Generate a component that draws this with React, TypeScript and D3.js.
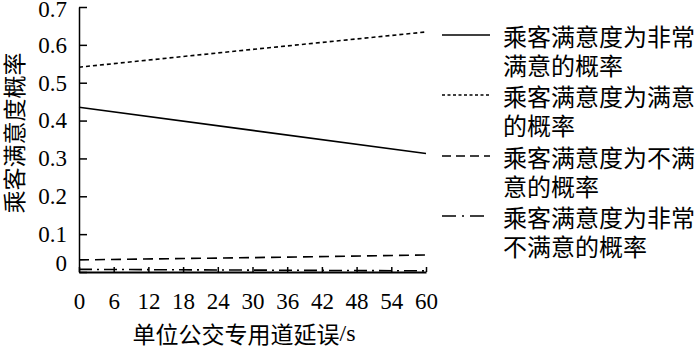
import React, { useEffect, useRef } from "react";
import * as d3 from "d3";

const delays = [0, 30, 60];
const veryHigh = [0.435, 0.374, 0.313];
const satisfied = [0.541, 0.588, 0.634];
const dissatisfied = [0.032, 0.038, 0.045];
const veryDissatisfied = [0.007, 0.005, 0.003];
const xTicks = [0, 6, 12, 18, 24, 30, 36, 42, 48, 54, 60];
const yTicks = [0, 0.1, 0.2, 0.3, 0.4, 0.5, 0.6, 0.7];
const seriesNames = [
  ["乘客满意度为非常", "满意的概率"],
  ["乘客满意度为满意", "的概率"],
  ["乘客满意度为不满", "意的概率"],
  ["乘客满意度为非常", "不满意的概率"],
];
const seriesValues = [veryHigh, satisfied, dissatisfied, veryDissatisfied];
const dashes = ["none", "4 3", "10 6", "13 5 2 5"];
const legendDashes = ["none", "3 2.5", "9 5", "14 6 2 6"];
const yTitle = "乘客满意度概率";
const xTitleMain = "单位公交专用道延误";
const xTitleUnit = "/s";

const W = 700;
const H = 346;
const serif = '"Liberation Serif", "DejaVu Serif", serif';
const cjk = '"Noto Sans CJK SC", "Noto Sans", sans-serif';

export default function App() {
  const gx = useRef<SVGGElement>(null);
  const gy = useRef<SVGGElement>(null);
  const x = d3.scaleLinear().domain([0, 60]).range([79, 426]);
  const y = d3.scaleLinear().domain([0, 0.7]).range([272, 7]);

  useEffect(() => {
    const ax = d3
      .axisBottom(x)
      .tickValues(xTicks)
      .tickFormat(d3.format("d"))
      .tickSizeInner(-5)
      .tickSizeOuter(0)
      .tickPadding(21);
    const sx = d3.select(gx.current!);
    sx.call(ax);
    sx.attr("font-family", null).attr("font-size", null);
    sx.select(".domain").attr("stroke-width", 2);
    sx.selectAll(".tick line").attr("stroke-width", 1.5);
    sx.selectAll("text").style("font-family", serif).style("font-size", "23px").attr("fill", "#000");

    const ay = d3
      .axisLeft(y)
      .tickValues(yTicks)
      .tickFormat((d: any) => (d === 0 ? "0" : d3.format(".1f")(d)))
      .tickSizeInner(-8)
      .tickSizeOuter(0)
      .tickPadding(12);
    const sy = d3.select(gy.current!);
    sy.call(ay);
    sy.attr("font-family", null).attr("font-size", null);
    sy.select(".domain").attr("stroke-width", 1.5);
    sy.selectAll(".tick line").attr("stroke-width", 1.5);
    sy.selectAll("text").style("font-family", serif).style("font-size", "23px").attr("fill", "#000");
    sy.selectAll<SVGTextElement, number>("text").filter((d) => d === 0).attr("dy", "-0.05em");
    sy.selectAll<SVGTextElement, number>("text").filter((d) => d === 0.7).attr("dy", "0.42em");
  }, []);

  const line = d3
    .line<number>()
    .x((_, i) => x(delays[i]))
    .y((d) => y(d));

  const legendY = [35, 95, 156, 216];

  return (
    <svg
      width={W}
      height={H}
      style={{ position: "absolute", left: 0, top: 0, background: "#fff" }}
    >
      <rect width={W} height={H} fill="#fff" />
      {seriesValues.map((vals, i) => (
        <path
          key={i}
          d={line(vals) || ""}
          fill="none"
          stroke="#000"
          strokeWidth={1.6}
          strokeDasharray={dashes[i]}
        />
      ))}
      <g ref={gx} transform={`translate(0,${y(0)})`} />
      <g ref={gy} transform={`translate(${x(0)},0)`} />
      <text
        transform={`translate(13,133) rotate(-90)`}
        textAnchor="middle"
        dominantBaseline="central"
        style={{ fontFamily: cjk, fontSize: "23px" }}
        fill="#000"
      >
        {yTitle}
      </text>
      <text
        x={244}
        y={333}
        textAnchor="middle"
        dominantBaseline="central"
        style={{ fontFamily: cjk, fontSize: "23px" }}
        fill="#000"
      >
        {xTitleMain}
        <tspan style={{ fontFamily: serif, fontSize: "24px" }}>{xTitleUnit}</tspan>
      </text>
      {seriesNames.map((lines, i) => (
        <g key={i}>
          <line
            x1={442}
            x2={490}
            y1={legendY[i]}
            y2={legendY[i]}
            stroke="#000"
            strokeWidth={1.6}
            strokeDasharray={legendDashes[i]}
          />
          {lines.map((t, j) => (
            <text
              key={j}
              x={503}
              y={legendY[i] + j * 29}
              dominantBaseline="central"
              style={{ fontFamily: cjk, fontSize: "24px" }}
              fill="#000"
            >
              {t}
            </text>
          ))}
        </g>
      ))}
    </svg>
  );
}
